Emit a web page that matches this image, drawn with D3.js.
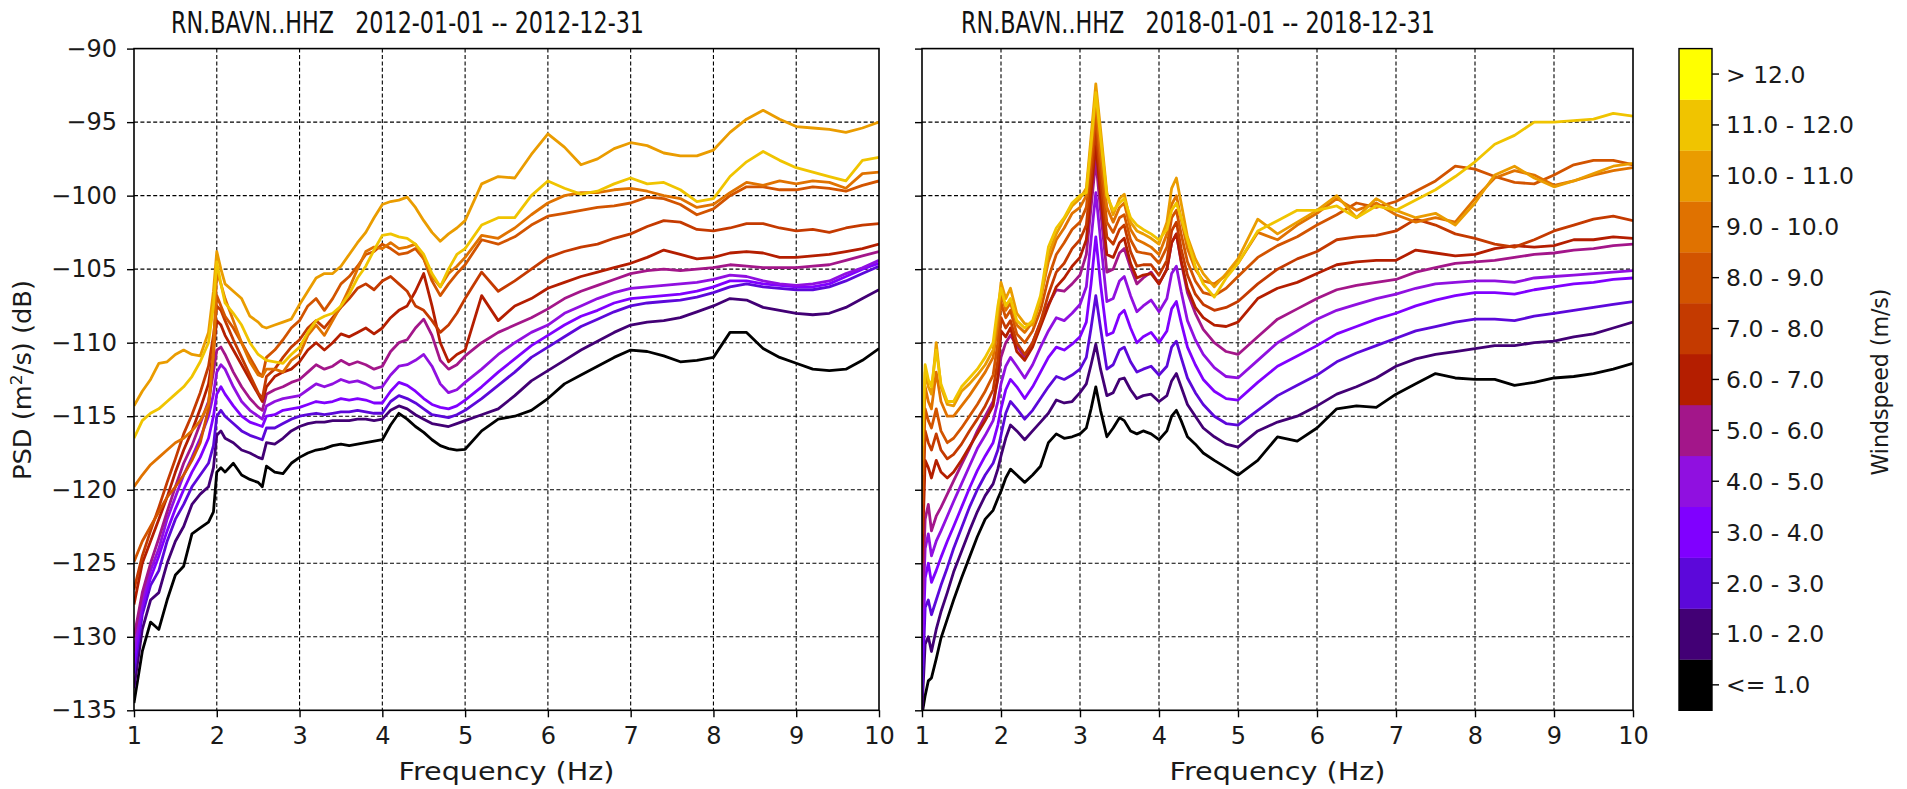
<!DOCTYPE html>
<html><head><meta charset="utf-8">
<script src="https://cdn.jsdelivr.net/npm/d3@7"></script>
<style>
body{margin:0;background:#fff;}
svg{display:block;font-family:"DejaVu Sans",sans-serif;}
</style></head>
<body><svg id="c" width="1907" height="789"></svg>
<script>
// ---------- categories / bins ----------
const binLabels = ["<= 1.0","1.0 - 2.0","2.0 - 3.0","3.0 - 4.0","4.0 - 5.0","5.0 - 6.0","6.0 - 7.0","7.0 - 8.0","8.0 - 9.0","9.0 - 10.0","10.0 - 11.0","11.0 - 12.0","> 12.0"];
const binColors = ["#000000","#420075","#5c08da","#8000ff","#9010e0","#a3168a","#b41e00","#c43a00","#d25400","#e07200","#ea9c00","#f0c400","#ffff00"];
const xTicks = [1,2,3,4,5,6,7,8,9,10];
const yTicks = [-135,-130,-125,-120,-115,-110,-105,-100,-95,-90];
const title2012 = "RN.BAVN..HHZ   2012-01-01 -- 2012-12-31";
const title2018 = "RN.BAVN..HHZ   2018-01-01 -- 2018-12-31";

// ---------- 2012 panel ----------
const freq2012 = [1.0,1.1,1.2,1.3,1.4,1.5,1.6,1.7,1.8,1.9,
  1.96,2.0,2.05,2.1,
  2.2,2.3,2.4,2.5,2.55,2.6,2.7,2.8,2.9,
  3.0,3.1,3.2,3.3,3.4,3.5,3.6,3.7,3.8,3.9,
  4.0,4.1,4.2,4.3,4.4,4.5,4.6,4.7,4.8,4.9,
  5.0,5.2,5.4,5.6,5.8, 6.0,6.2,6.4,6.6,6.8, 7.0,7.2,7.4,7.6,7.8, 8.0,8.2,8.4,8.6,8.8, 9.0,9.2,9.4,9.6,9.8,10.0];

const psd2012_b0 = [-134.5,-131.0,-129.0,-129.5,-127.5,-125.8,-125.2,-123.0,-122.6,-122.2,
  -121.5,-118.8,-118.5,-118.8,
  -118.2,-119.0,-119.3,-119.5,-119.8,-118.4,-118.8,-118.9,-118.2,
  -117.8,-117.5,-117.3,-117.2,-117.0,-116.9,-117.0,-116.9,-116.8,-116.7,
  -116.6,-115.6,-114.8,-115.2,-115.7,-116.1,-116.6,-117.0,-117.2,-117.3,
  -117.25,-116.0,-115.2,-115.0,-114.6, -113.8,-112.8,-112.2,-111.6,-111.0, -110.5,-110.6,-110.9,-111.3,-111.2, -111.0,-109.3,-109.3,-110.4,-111.0, -111.4,-111.8,-111.9,-111.8,-111.2,-110.4];
const psd2012_b1 = [-133.5,-129.5,-127.5,-127.0,-125.0,-123.5,-122.5,-121.0,-120.3,-119.8,
  -118.5,-116.3,-116.0,-116.5,
  -116.8,-117.3,-117.5,-117.8,-117.9,-116.8,-116.9,-116.5,-116.0,
  -115.7,-115.5,-115.4,-115.4,-115.3,-115.3,-115.3,-115.2,-115.2,-115.3,
  -115.2,-114.6,-114.3,-114.5,-114.9,-115.2,-115.5,-115.6,-115.7,-115.5,
  -115.3,-114.9,-114.5,-113.6,-112.6, -111.9,-111.2,-110.5,-109.9,-109.3, -108.8,-108.6,-108.5,-108.3,-107.9, -107.5,-107.0,-107.1,-107.6,-107.8, -108.0,-108.1,-108.0,-107.6,-107.0,-106.4];
const psd2012_b2 = [-132.5,-128.5,-126.5,-125.5,-123.5,-122.0,-121.0,-119.8,-119.0,-118.2,
  -117.0,-115.0,-114.6,-115.0,
  -115.5,-116.0,-116.3,-116.5,-116.6,-115.8,-115.8,-115.5,-115.2,
  -115.0,-114.9,-114.8,-114.9,-114.8,-114.7,-114.7,-114.6,-114.7,-114.8,
  -114.8,-114.0,-113.6,-113.8,-114.1,-114.5,-114.9,-115.0,-115.1,-114.9,
  -114.6,-113.8,-112.9,-112.0,-111.0, -110.3,-109.6,-108.9,-108.4,-107.9, -107.5,-107.3,-107.2,-107.1,-106.9, -106.6,-106.2,-106.0,-106.2,-106.3, -106.4,-106.4,-106.2,-105.8,-105.3,-104.8];
const psd2012_b3 = [-131.8,-128.0,-126.0,-124.5,-122.8,-121.3,-120.0,-118.8,-117.8,-116.5,
  -115.0,-113.5,-113.0,-113.5,
  -114.3,-115.0,-115.4,-115.6,-115.7,-115.0,-114.9,-114.6,-114.5,
  -114.4,-114.2,-114.0,-114.1,-114.0,-113.8,-113.9,-113.8,-113.9,-114.1,
  -114.1,-113.3,-112.7,-112.9,-113.3,-113.8,-114.2,-114.4,-114.5,-114.3,
  -113.9,-113.0,-112.0,-111.1,-110.2, -109.5,-108.8,-108.2,-107.8,-107.3, -107.0,-106.9,-106.8,-106.7,-106.5, -106.2,-105.8,-105.8,-106.0,-106.1, -106.2,-106.2,-106.0,-105.5,-105.0,-104.6];
const psd2012_b4 = [-131.0,-127.5,-125.5,-124.0,-122.0,-120.5,-119.0,-117.8,-116.5,-115.0,
  -113.5,-112.0,-111.5,-111.8,
  -113.0,-114.0,-114.6,-115.0,-115.2,-114.3,-114.0,-113.8,-113.7,
  -113.6,-113.2,-112.8,-113.0,-112.8,-112.5,-112.7,-112.6,-112.8,-113.1,
  -113.0,-112.2,-111.6,-111.5,-111.2,-110.8,-111.6,-112.8,-113.4,-113.2,
  -112.7,-111.8,-110.8,-110.0,-109.3, -108.8,-108.0,-107.5,-107.0,-106.6, -106.3,-106.2,-106.1,-106.0,-105.9, -105.7,-105.4,-105.5,-105.8,-106.0, -106.1,-106.0,-105.8,-105.3,-104.9,-104.4];
const psd2012_b5 = [-130.0,-127.0,-125.0,-123.3,-121.5,-119.8,-118.2,-117.0,-115.5,-114.0,
  -112.0,-110.5,-110.3,-110.8,
  -112.0,-113.0,-113.8,-114.4,-114.6,-113.5,-113.2,-113.0,-112.7,
  -112.5,-112.0,-111.5,-111.8,-111.6,-111.2,-111.5,-111.3,-111.5,-111.8,
  -111.6,-110.6,-110.0,-109.8,-109.0,-108.4,-109.5,-111.2,-111.8,-111.5,
  -110.9,-110.0,-109.3,-108.8,-108.3, -107.7,-107.0,-106.5,-106.1,-105.7, -105.3,-105.1,-105.0,-105.1,-105.0, -104.9,-104.7,-104.8,-104.9,-104.9, -104.9,-104.8,-104.7,-104.4,-104.1,-103.8];
const psd2012_b6 = [-127.8,-125.0,-123.5,-122.0,-120.5,-118.8,-117.3,-116.0,-114.5,-112.8,
  -110.5,-108.5,-108.8,-109.5,
  -110.5,-111.5,-112.5,-113.5,-114.0,-113.0,-112.3,-112.0,-111.8,
  -111.3,-110.5,-110.0,-110.5,-110.0,-109.4,-109.6,-109.3,-109.0,-109.4,
  -109.0,-108.3,-107.8,-107.5,-106.5,-105.3,-107.5,-110.0,-111.3,-110.8,
  -110.5,-106.8,-108.5,-107.5,-107.0, -106.3,-105.9,-105.5,-105.2,-104.9, -104.6,-104.2,-103.7,-104.0,-104.3, -104.2,-103.9,-103.8,-103.9,-104.2, -104.2,-104.1,-104.0,-103.8,-103.6,-103.3];
const psd2012_b7 = [-126.8,-124.5,-122.8,-121.2,-119.5,-117.9,-116.2,-114.9,-113.4,-111.6,
  -109.5,-107.5,-107.8,-108.5,
  -109.8,-111.0,-112.2,-113.4,-113.8,-112.3,-111.8,-111.0,-110.3,
  -109.8,-109.0,-108.5,-109.0,-108.3,-107.6,-107.0,-106.3,-106.0,-106.4,
  -105.8,-105.5,-106.0,-106.5,-107.5,-107.8,-108.5,-109.3,-108.8,-108.0,
  -107.0,-105.2,-106.5,-105.8,-105.0, -104.2,-103.8,-103.5,-103.3,-102.9, -102.6,-102.1,-101.7,-101.8,-102.3, -102.4,-102.2,-101.9,-101.9,-102.2, -102.4,-102.3,-102.5,-102.2,-102.0,-101.9];
const psd2012_b8 = [-124.9,-123.5,-122.5,-121.5,-120.5,-119.8,-119.0,-118.0,-116.8,-114.5,
  -111.0,-106.8,-107.5,-108.2,
  -109.0,-110.0,-111.0,-112.0,-112.3,-111.0,-110.5,-109.8,-109.0,
  -108.5,-107.5,-107.0,-107.8,-107.0,-106.0,-105.5,-104.8,-104.0,-103.8,
  -103.3,-103.6,-104.0,-103.9,-103.6,-104.3,-105.8,-106.8,-106.0,-105.3,
  -104.7,-103.0,-103.3,-102.8,-102.0, -101.4,-101.2,-101.0,-100.8,-100.7, -100.5,-100.1,-100.2,-100.6,-101.3, -100.9,-100.0,-99.4,-99.4,-99.6, -99.6,-99.4,-99.5,-99.7,-99.3,-99.0];
const psd2012_b9 = [-119.8,-119.0,-118.3,-117.8,-117.3,-116.8,-116.5,-116.0,-115.3,-114.2,
  -110.5,-105.2,-106.0,-107.0,
  -108.5,-110.0,-111.3,-112.2,-112.3,-111.8,-111.8,-112.0,-111.2,
  -110.8,-109.5,-108.8,-109.5,-108.5,-107.5,-106.3,-105.0,-103.8,-103.5,
  -103.6,-103.2,-103.6,-103.5,-103.3,-104.3,-105.5,-106.2,-105.3,-104.8,
  -104.2,-102.7,-102.9,-102.2,-101.3, -100.5,-100.0,-99.8,-99.8,-99.6, -99.5,-99.7,-100.0,-100.2,-100.8, -100.6,-99.8,-99.1,-99.3,-99.0, -99.2,-99.0,-99.1,-99.5,-98.5,-98.4];
const psd2012_b10 = [-114.3,-113.3,-112.5,-111.4,-111.3,-110.8,-110.5,-110.8,-110.9,-109.3,
  -106.5,-103.8,-105.0,-106.0,
  -106.5,-107.0,-108.2,-108.6,-108.9,-109.0,-108.8,-108.6,-108.4,
  -107.4,-106.5,-105.6,-105.3,-105.3,-104.8,-104.0,-103.2,-102.5,-101.5,
  -100.6,-100.4,-100.3,-100.1,-100.8,-101.7,-102.5,-103.1,-102.6,-102.2,
  -101.7,-99.2,-98.7,-98.8,-97.2, -95.8,-96.7,-97.9,-97.5,-96.8, -96.4,-96.6,-97.1,-97.3,-97.3, -96.9,-95.7,-94.8,-94.2,-94.8, -95.3,-95.4,-95.5,-95.7,-95.4,-95.0];
const psd2012_b11 = [-116.5,-115.3,-114.8,-114.5,-114.0,-113.5,-113.0,-112.3,-111.3,-110.0,
  -107.5,-104.5,-106.0,-107.3,
  -108.0,-108.8,-110.0,-110.8,-111.0,-111.2,-111.3,-111.4,-110.8,
  -110.3,-109.3,-108.5,-108.2,-108.0,-107.5,-106.7,-105.6,-104.8,-103.7,
  -102.7,-102.6,-102.8,-102.9,-103.3,-104.0,-105.3,-106.2,-105.0,-104.0,
  -103.6,-102.0,-101.5,-101.5,-100.0, -99.0,-99.5,-99.9,-99.7,-99.2, -98.8,-99.2,-99.1,-99.6,-100.4, -100.2,-98.7,-97.7,-97.0,-97.6, -98.1,-98.4,-98.7,-99.0,-97.6,-97.4];

// ---------- 2018 panel ----------
const freq2018 = [1.0,1.04,1.08,1.12,1.18,1.24,1.32,1.4,1.5,1.6,1.7,1.8,1.9,
  1.96,2.0,2.06,2.12,2.2,2.3,2.4,2.5,2.6,2.7,2.8,2.9,
  3.0,3.08,3.14,3.2,3.26,3.34,3.42,3.5,3.56,3.64,3.72,3.8,3.9,
  4.0,4.1,4.16,4.22,4.28,4.36,4.46,4.56,4.7,4.85,
  5.0,5.25,5.5,5.75,6.0,6.25,6.5,6.75,7.0,7.25,7.5,7.75,8.0,8.25,8.5,8.75,9.0,9.25,9.5,9.75,10.0];

const psd2018_b0 = [-135.3,-134.0,-133.0,-132.8,-131.5,-130.1,-128.8,-127.5,-126.0,-124.6,-123.2,-122.0,-121.4,
  -120.6,-120.1,-119.2,-118.6,-119.0,-119.5,-119.0,-118.4,-116.8,-116.2,-116.5,-116.4,
  -116.2,-115.8,-114.5,-113.0,-114.6,-116.4,-115.8,-115.1,-115.3,-116.0,-116.2,-116.0,-116.2,
  -116.6,-116.0,-115.0,-114.6,-115.3,-116.4,-116.9,-117.5,-118.0,-118.5,
  -119.0,-118.0,-116.4,-116.7,-115.8,-114.5,-114.3,-114.4,-113.5,-112.8,-112.1,-112.4,-112.5,-112.5,-112.9,-112.7,-112.4,-112.3,-112.1,-111.8,-111.4];
const psd2018_b1 = [-135.0,-130.5,-130.0,-131.0,-129.5,-128.3,-127.0,-125.6,-124.2,-122.8,-121.5,-120.4,-119.6,
  -118.6,-117.7,-116.5,-115.6,-116.0,-116.6,-116.0,-115.4,-114.8,-113.9,-114.1,-114.0,
  -113.4,-112.8,-111.5,-110.1,-111.8,-113.6,-113.4,-112.5,-112.4,-113.2,-113.8,-113.6,-113.5,
  -114.0,-113.6,-112.6,-112.1,-113.0,-114.2,-115.0,-115.8,-116.4,-116.9,
  -117.1,-116.0,-115.4,-115.0,-114.3,-113.5,-113.0,-112.4,-111.6,-111.1,-110.8,-110.6,-110.4,-110.2,-110.2,-110.0,-109.9,-109.6,-109.4,-109.0,-108.6];
const psd2018_b2 = [-134.0,-128.0,-127.5,-128.5,-127.5,-126.5,-125.3,-124.0,-122.6,-121.2,-120.0,-119.0,-118.2,
  -117.3,-116.3,-114.8,-114.0,-114.5,-115.2,-114.6,-113.8,-113.0,-112.3,-112.5,-112.2,
  -111.8,-111.0,-109.0,-106.8,-109.0,-111.8,-111.5,-110.5,-110.3,-111.3,-112.0,-111.8,-111.6,
  -112.2,-111.6,-110.3,-109.9,-111.0,-112.4,-113.4,-114.2,-115.0,-115.5,
  -115.6,-114.6,-113.6,-112.9,-112.2,-111.3,-110.7,-110.2,-109.7,-109.2,-108.9,-108.6,-108.4,-108.4,-108.5,-108.2,-108.0,-107.8,-107.6,-107.4,-107.2];
const psd2018_b3 = [-132.0,-126.0,-125.0,-126.3,-125.5,-124.6,-123.5,-122.5,-121.2,-119.9,-118.7,-117.7,-116.8,
  -115.6,-114.5,-113.2,-112.5,-113.0,-113.8,-113.0,-112.0,-111.0,-110.3,-110.5,-110.1,
  -109.6,-108.6,-106.0,-102.8,-106.0,-109.5,-109.3,-108.1,-107.8,-109.0,-110.0,-109.6,-109.3,
  -110.0,-109.2,-107.7,-107.2,-108.6,-110.3,-111.5,-112.5,-113.3,-113.8,
  -113.9,-112.7,-111.6,-110.9,-110.2,-109.4,-108.9,-108.4,-108.0,-107.5,-107.1,-106.8,-106.6,-106.6,-106.7,-106.4,-106.2,-106.0,-105.9,-105.7,-105.6];
const psd2018_b4 = [-130.0,-124.0,-123.0,-124.5,-123.5,-122.8,-121.8,-120.8,-119.6,-118.4,-117.2,-116.3,-115.3,
  -114.0,-112.8,-111.6,-111.0,-111.6,-112.4,-111.5,-110.3,-109.2,-108.3,-108.5,-108.0,
  -107.4,-106.2,-103.0,-99.8,-103.0,-107.2,-107.0,-105.8,-105.5,-106.8,-107.9,-107.5,-107.1,
  -107.9,-107.0,-105.3,-104.8,-106.5,-108.5,-109.8,-110.8,-111.7,-112.3,
  -112.4,-111.2,-110.0,-109.2,-108.4,-107.8,-107.4,-107.0,-106.7,-106.3,-106.0,-105.9,-105.8,-105.8,-105.9,-105.6,-105.5,-105.4,-105.3,-105.2,-105.1];
const psd2018_b5 = [-128.0,-122.0,-121.0,-122.8,-121.8,-121.2,-120.3,-119.4,-118.3,-117.2,-116.0,-115.0,-114.0,
  -112.5,-111.0,-110.0,-109.5,-110.2,-111.0,-110.0,-108.6,-107.4,-106.4,-106.5,-106.0,
  -105.4,-104.0,-100.8,-97.6,-101.0,-105.2,-105.0,-103.9,-103.6,-104.9,-106.0,-105.6,-105.2,
  -106.0,-105.0,-103.2,-102.6,-104.5,-106.6,-108.0,-109.1,-110.0,-110.6,
  -110.8,-109.6,-108.4,-107.7,-107.0,-106.4,-106.1,-105.9,-105.7,-105.2,-104.9,-104.6,-104.5,-104.4,-104.2,-104.0,-103.9,-103.7,-103.6,-103.4,-103.3];
const psd2018_b6 = [-125.0,-118.0,-118.5,-119.2,-118.0,-118.8,-119.2,-118.8,-118.0,-117.1,-116.2,-115.3,-114.3,
  -112.3,-109.2,-109.6,-109.0,-110.6,-111.2,-110.3,-108.9,-107.5,-106.2,-105.6,-104.8,
  -104.2,-103.0,-99.8,-96.5,-100.0,-104.0,-104.2,-103.2,-102.9,-104.6,-105.6,-105.4,-105.3,
  -106.0,-105.0,-103.2,-102.6,-104.4,-106.3,-107.6,-108.3,-108.8,-108.9,
  -108.6,-107.0,-106.3,-105.9,-105.3,-104.7,-104.5,-104.4,-104.4,-103.7,-103.9,-104.1,-104.0,-103.6,-103.4,-103.5,-103.4,-103.0,-103.0,-102.8,-102.9];
const psd2018_b7 = [-123.0,-116.0,-116.8,-117.3,-116.2,-117.3,-117.9,-117.6,-116.9,-116.0,-115.2,-114.3,-113.2,
  -111.2,-108.3,-109.0,-108.5,-110.0,-110.8,-110.0,-108.6,-106.7,-105.2,-104.6,-103.6,
  -103.0,-102.0,-98.8,-95.5,-99.0,-102.8,-103.3,-102.3,-102.0,-103.8,-104.8,-104.7,-104.7,
  -105.4,-104.4,-102.4,-101.8,-103.6,-105.4,-106.7,-107.4,-107.8,-107.6,
  -107.2,-106.0,-105.0,-104.3,-103.8,-103.0,-102.8,-102.7,-102.4,-101.6,-102.0,-102.6,-102.9,-103.3,-103.5,-103.0,-102.4,-102.0,-101.6,-101.4,-101.7];
const psd2018_b8 = [-121.0,-114.5,-115.3,-115.8,-114.5,-116.0,-116.8,-116.5,-115.8,-115.0,-114.2,-113.3,-112.2,
  -110.0,-107.3,-108.3,-107.8,-109.4,-110.0,-109.2,-107.8,-105.6,-104.0,-103.2,-102.3,
  -101.8,-100.8,-97.8,-94.5,-98.0,-101.8,-102.5,-101.5,-101.3,-103.0,-103.8,-103.9,-104.0,
  -104.6,-103.5,-101.5,-101.0,-102.6,-104.5,-105.8,-106.6,-106.8,-106.3,
  -105.5,-104.2,-103.4,-102.8,-102.0,-101.3,-100.5,-100.8,-100.4,-99.7,-99.0,-98.0,-98.2,-98.7,-99.1,-99.2,-98.6,-97.9,-97.6,-97.6,-97.9];
const psd2018_b9 = [-119.0,-113.0,-114.0,-114.5,-112.0,-114.0,-115.0,-115.0,-114.3,-113.6,-112.8,-112.0,-111.0,
  -108.8,-106.6,-107.8,-107.3,-108.8,-109.3,-108.6,-107.0,-104.5,-103.0,-102.2,-101.2,
  -100.8,-100.0,-97.0,-93.6,-97.0,-100.8,-101.8,-100.8,-100.5,-102.3,-103.0,-103.2,-103.5,
  -104.0,-102.6,-100.6,-100.0,-101.6,-103.6,-105.0,-105.8,-106.0,-105.4,
  -104.6,-102.5,-103.0,-102.0,-101.2,-100.2,-101.0,-100.5,-101.3,-101.8,-101.5,-101.8,-100.2,-98.8,-98.3,-98.6,-99.3,-99.0,-98.6,-98.3,-98.1];
const psd2018_b10 = [-118.0,-112.0,-113.0,-113.5,-110.0,-113.0,-114.2,-114.3,-113.3,-112.8,-112.2,-111.5,-110.5,
  -108.0,-105.9,-107.0,-106.3,-108.0,-108.7,-108.8,-107.2,-104.0,-102.6,-101.6,-100.7,
  -100.2,-99.5,-96.0,-92.4,-95.5,-99.8,-101.3,-100.2,-99.9,-101.8,-102.4,-102.6,-102.9,
  -103.3,-101.8,-99.5,-98.8,-100.5,-102.8,-104.3,-105.3,-106.2,-105.3,
  -104.3,-101.6,-102.6,-101.8,-101.0,-100.0,-101.5,-100.2,-101.0,-101.5,-101.2,-102.0,-100.5,-98.6,-98.0,-98.8,-99.4,-99.0,-98.5,-98.0,-97.8];
const psd2018_b11 = [-117.0,-111.5,-112.5,-113.0,-110.5,-112.8,-114.0,-114.0,-113.0,-112.4,-111.8,-111.0,-110.0,
  -107.5,-106.3,-107.5,-107.0,-108.5,-109.0,-108.5,-106.8,-103.5,-102.2,-101.5,-100.5,
  -100.0,-99.8,-96.5,-93.0,-96.0,-100.0,-101.0,-100.5,-100.2,-101.5,-102.0,-102.3,-102.6,
  -103.0,-102.3,-101.0,-100.5,-101.5,-103.0,-104.8,-106.0,-106.9,-105.6,
  -104.6,-102.4,-101.7,-101.0,-101.0,-100.7,-101.5,-100.7,-101.0,-100.3,-99.6,-98.7,-97.7,-96.5,-95.9,-95.0,-95.0,-94.9,-94.8,-94.4,-94.6];

const series2012 = [psd2012_b0,psd2012_b1,psd2012_b2,psd2012_b3,psd2012_b4,psd2012_b5,psd2012_b6,psd2012_b7,psd2012_b8,psd2012_b9,psd2012_b10,psd2012_b11];
const series2018 = [psd2018_b0,psd2018_b1,psd2018_b2,psd2018_b3,psd2018_b4,psd2018_b5,psd2018_b6,psd2018_b7,psd2018_b8,psd2018_b9,psd2018_b10,psd2018_b11];

// ---------- drawing ----------
const svg = d3.select("#c");
const plotTop = 48.6, plotBottom = 710.3;
const yScale = d3.scaleLinear().domain([-135, -90]).range([plotBottom, plotTop]);

const panels = [
  {id:"p2012", x0:134, x1:879, title:title2012, titleX:171, titleW:473, freq:freq2012, series:series2012, labels:true},
  {id:"p2018", x0:922, x1:1633, title:title2018, titleX:961, titleW:474, freq:freq2018, series:series2018, labels:false}
];

const defs = svg.append("defs");

panels.forEach(p => {
  const x = d3.scaleLinear().domain([1, 10]).range([p.x0, p.x1]);
  const g = svg.append("g");
  defs.append("clipPath").attr("id", "clip-" + p.id)
    .append("rect").attr("x", p.x0).attr("y", plotTop).attr("width", p.x1 - p.x0).attr("height", plotBottom - plotTop);

  const grid = g.append("g").attr("stroke", "#000").attr("stroke-width", 1.1).attr("stroke-dasharray", "4,2.4");
  grid.selectAll("line.gx").data(xTicks.slice(1, -1)).join("line")
    .attr("x1", d => x(d)).attr("x2", d => x(d)).attr("y1", plotTop).attr("y2", plotBottom);
  grid.selectAll("line.gy").data(yTicks.slice(1, -1)).join("line")
    .attr("y1", d => yScale(d)).attr("y2", d => yScale(d)).attr("x1", p.x0).attr("x2", p.x1);

  const line = d3.line().x((d, i) => x(p.freq[i])).y(d => yScale(d));
  g.append("g").attr("clip-path", "url(#clip-" + p.id + ")")
    .selectAll("path").data(p.series).join("path")
    .attr("d", d => line(d))
    .attr("fill", "none")
    .attr("stroke", (d, i) => binColors[i])
    .attr("stroke-width", 2.8)
    .attr("stroke-linejoin", "round");

  g.append("rect").attr("x", p.x0).attr("y", plotTop).attr("width", p.x1 - p.x0).attr("height", plotBottom - plotTop)
    .attr("fill", "none").attr("stroke", "#000").attr("stroke-width", 1.6);

  const ax = d3.axisBottom(x).tickValues(xTicks).tickSize(7).tickPadding(10).tickFormat(d3.format("d"));
  const axG = g.append("g").attr("transform", `translate(0,${plotBottom})`).call(ax);
  const ay = d3.axisLeft(yScale).tickValues(yTicks).tickSize(7).tickPadding(10)
    .tickFormat(p.labels ? d3.format("d") : () => "");
  const ayG = g.append("g").attr("transform", `translate(${p.x0},0)`).call(ay);
  [axG, ayG].forEach(a => {
    a.select(".domain").remove();
    a.selectAll(".tick line").attr("stroke", "#000").attr("stroke-width", 1.4);
    a.selectAll(".tick text").attr("fill", "#1a1a1a").style("font-size", "24px")
      .style("font-family", "'DejaVu Sans', sans-serif");
  });

  g.append("text").attr("x", (p.x0 + p.x1) / 2).attr("y", 780).attr("text-anchor", "middle")
    .attr("textLength", 216).attr("lengthAdjust", "spacingAndGlyphs")
    .style("font-size", "25px").attr("fill", "#1a1a1a").text("Frequency (Hz)");

  g.append("text").attr("x", p.titleX).attr("y", 33)
    .attr("textLength", p.titleW).attr("lengthAdjust", "spacingAndGlyphs")
    .style("font-size", "31px").style("white-space", "pre").attr("fill", "#111")
    .text(p.title);
});

const yl = svg.append("text").attr("transform", "translate(31,380) rotate(-90)")
  .attr("text-anchor", "middle").attr("textLength", 200).attr("lengthAdjust", "spacingAndGlyphs")
  .style("font-size", "24px").attr("fill", "#1a1a1a");
yl.append("tspan").text("PSD (m");
yl.append("tspan").attr("dy", -9).style("font-size", "16px").text("2");
yl.append("tspan").attr("dy", 9).text("/s) (dB)");

const cbX0 = 1679, cbX1 = 1712;
const cb = d3.scaleLinear().domain([0, binLabels.length]).range([plotBottom, plotTop]);
const cbG = svg.append("g");
cbG.selectAll("rect.band").data(binLabels).join("rect")
  .attr("x", cbX0).attr("width", cbX1 - cbX0)
  .attr("y", (d, i) => cb(i + 1)).attr("height", (d, i) => cb(i) - cb(i + 1) + 0.3)
  .attr("fill", (d, i) => binColors[i]);
cbG.append("rect").attr("x", cbX0).attr("y", plotTop).attr("width", cbX1 - cbX0).attr("height", plotBottom - plotTop)
  .attr("fill", "none").attr("stroke", "#000").attr("stroke-width", 1.4);
cbG.selectAll("line.t").data(binLabels).join("line")
  .attr("x1", cbX1).attr("x2", cbX1 + 7)
  .attr("y1", (d, i) => cb(i + 0.5)).attr("y2", (d, i) => cb(i + 0.5))
  .attr("stroke", "#000").attr("stroke-width", 1.4);
cbG.selectAll("text.t").data(binLabels).join("text")
  .attr("x", cbX1 + 14).attr("y", (d, i) => cb(i + 0.5)).attr("dy", "0.36em")
  .style("font-size", "23.5px").attr("fill", "#1a1a1a").text(d => d);
svg.append("text").attr("transform", "translate(1888,382) rotate(-90)")
  .attr("text-anchor", "middle").attr("textLength", 187).attr("lengthAdjust", "spacingAndGlyphs")
  .style("font-size", "23px").attr("fill", "#1a1a1a")
  .text("Windspeed (m/s)");
</script>
</body></html>
